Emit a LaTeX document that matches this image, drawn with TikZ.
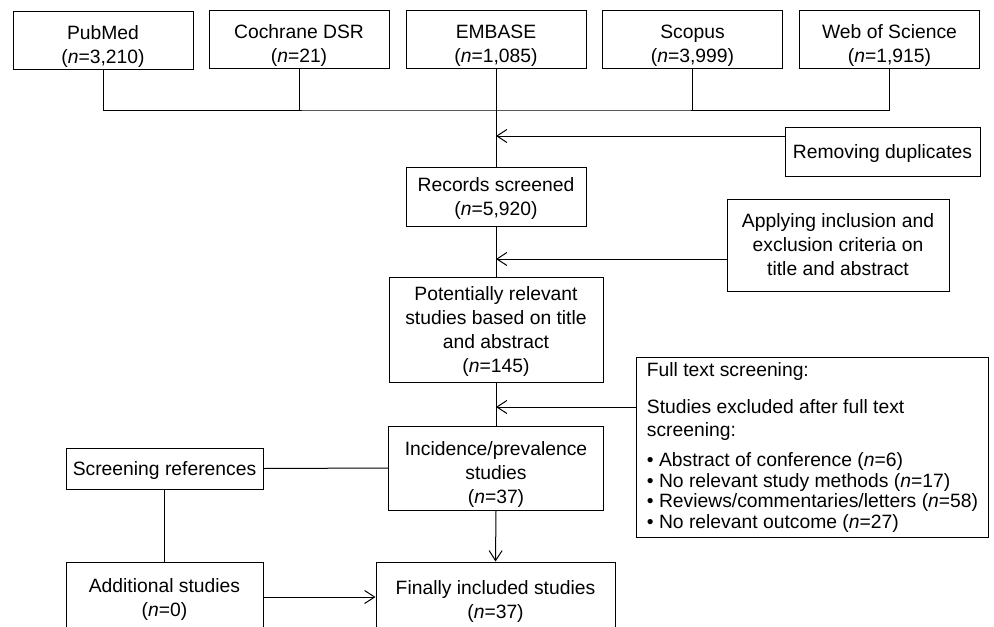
\documentclass[tikz,border=0pt]{standalone}
\usepackage{fontspec}
\setmainfont{Liberation Sans}
\usetikzlibrary{arrows.meta}

\begin{document}
\begin{tikzpicture}[>={Straight Barb[length=5pt,width=6.5pt]},x=0.5pt,y=-0.5pt,line width=0.5pt,
    font=\fontsize{9.65}{12}\selectfont,
    box/.style={draw,align=center,inner sep=0pt,text depth=0pt},
    dbbox/.style={box,minimum width=90pt,minimum height=29pt,text height=23pt}]
    \useasboundingbox (0,0) rectangle (994,626);
    % databases
    \node[dbbox] (pub) at (103,40.5) {PubMed\\(\textit{n}=3,210)};
    \node[dbbox] (coch) at (299,39.5) {Cochrane DSR\\(\textit{n}=21)};
    \node[dbbox] (emb) at (496,39.5) {EMBASE\\(\textit{n}=1,085)};
    \node[dbbox] (scop) at (692.5,39.5) {Scopus\\(\textit{n}=3,999)};
    \node[dbbox] (wos) at (889.5,39.5) {Web of Science\\(\textit{n}=1,915)};
    \coordinate (bus) at (496,110);
    \draw (pub.south) |- (bus) -| (wos.south);
    \foreach \db in {coch,scop}{
      \draw (\db.south) -- (\db.south |- bus);
    }
    % main column
    \node[box,minimum width=90pt,minimum height=29.5pt] (rec) at (496,196.5) {Records screened\\(\textit{n}=5,920)};
    \node[box,minimum width=107pt,minimum height=52.5pt] (pot) at (496,329.5) {Potentially relevant\\studies based on title\\and abstract\\(\textit{n}=145)};
    \node[box,minimum width=107.5pt,minimum height=42pt,text height=35pt] (inc) at (496,468) {Incidence/prevalence\\studies\\(\textit{n}=37)};
    \node[box,minimum width=119.5pt,minimum height=37pt] (fin) at (495.5,599) {Finally included studies\\(\textit{n}=37)};
    \draw (emb.south) -- (rec.north);
    \draw (rec.south) -- (pot.north);
    \draw (pot.south) -- (inc.north);
    \draw[->] (inc.south) -- (fin.north);
    % right side
    \node[box,minimum width=97.5pt,minimum height=24.5pt] (dup) at (882.5,151.5) {Removing duplicates};
    \node[box,minimum width=111pt,minimum height=46pt] (app) at (838,245) {Applying inclusion and\\exclusion criteria on\\title and abstract};
    \node[draw,align=left,inner sep=0pt,anchor=north west,minimum width=176pt,minimum height=90pt,
      font=\fontsize{9.65}{11.5}\selectfont] (full) at (636,357) {Full text screening:\\[7pt]
      Studies excluded after full text\\screening:\\[3.5pt]
      \textbullet\ Abstract of conference (\textit{n}=6)\\[-1.3pt]
      \textbullet\ No relevant study methods (\textit{n}=17)\\[-1.3pt]
      \textbullet\ Reviews/commentaries/letters (\textit{n}=58)\\[-1.3pt]
      \textbullet\ No relevant outcome (\textit{n}=27)};
    \draw[->] ([yshift=7.75pt]dup.west) -- ([yshift=7.75pt]dup.west -| rec.north);
    \draw[->] ([yshift=-7pt]app.west) -- ([yshift=-7pt]app.west -| rec.south);
    \draw[->] ([yshift=-25pt]full.north west) -- ([yshift=-25pt]full.north west -| pot.south);
    % left side
    \node[box,minimum width=98.5pt,minimum height=20.5pt] (scr) at (164.5,468.5) {Screening references};
    \node[box,minimum width=98.5pt,minimum height=35pt] (add) at (164.5,597) {Additional studies\\(\textit{n}=0)};
    \draw (scr.east) -- (inc.west);
    \draw (scr.south) -- (add.north);
    \draw[->] (add.east) -- (add.east -| fin.west);

  \end{tikzpicture}
\end{document}
